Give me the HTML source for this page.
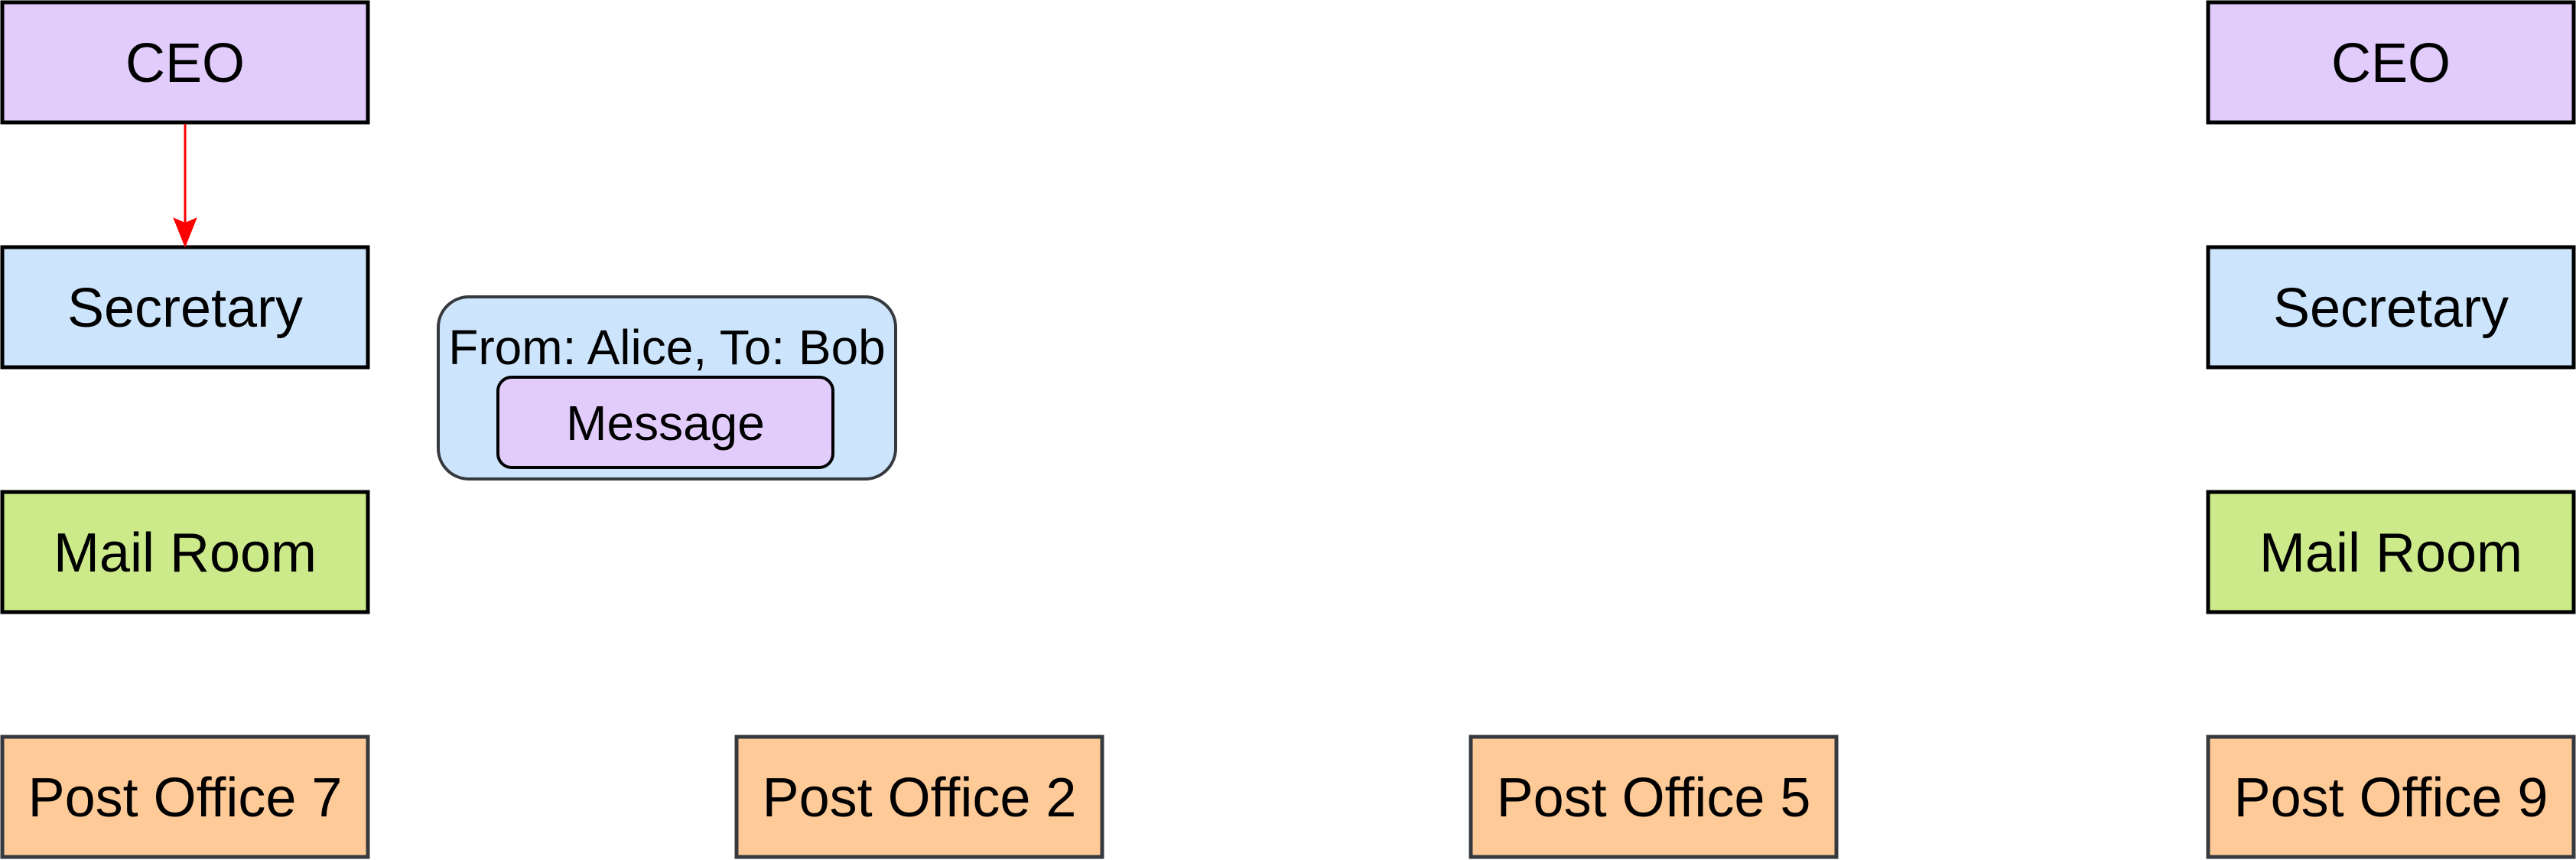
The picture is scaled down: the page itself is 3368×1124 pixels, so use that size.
<!DOCTYPE html>
<html><head><meta charset="utf-8"><style>
html,body{margin:0;padding:0;background:#fff;}
svg{display:block;}
text{font-family:"Liberation Sans",Arial,sans-serif;fill:#000;text-anchor:middle;}
</style></head><body>
<svg width="3368" height="1124" viewBox="0 0 3368 1124" xmlns="http://www.w3.org/2000/svg">
<rect x="0" y="0" width="3368" height="1124" fill="#fff"/>
<rect x="3" y="3" width="478" height="157" fill="#e1ccfc" stroke="#000" stroke-width="5"/>
<text x="242" y="107" font-size="72">CEO</text>
<rect x="3" y="323" width="478" height="157" fill="#cce5fc" stroke="#000" stroke-width="5"/>
<text x="242" y="427" font-size="72">Secretary</text>
<rect x="3" y="643" width="478" height="157" fill="#cdea8b" stroke="#000" stroke-width="5"/>
<text x="242" y="747" font-size="72">Mail Room</text>
<rect x="3" y="963" width="478" height="157" fill="#feca98" stroke="#36393d" stroke-width="5"/>
<text x="242" y="1067" font-size="72">Post Office 7</text>
<line x1="242" y1="162" x2="242" y2="300" stroke="#ff0000" stroke-width="3"/>
<polygon points="228,286 242,292 256,286 242,321" fill="#ff0000" stroke="#ff0000" stroke-width="2"/>
<rect x="573" y="388" width="598" height="238" rx="40" ry="40" fill="#cce5fc" stroke="#36393d" stroke-width="4"/>
<text x="872" y="476" font-size="64">From: Alice, To: Bob</text>
<rect x="651" y="493" width="438" height="118" rx="18" ry="18" fill="#e1ccfc" stroke="#000" stroke-width="4"/>
<text x="870" y="575" font-size="64">Message</text>
<rect x="963" y="963" width="478" height="157" fill="#feca98" stroke="#36393d" stroke-width="5"/>
<text x="1202" y="1067" font-size="72">Post Office 2</text>
<rect x="1923" y="963" width="478" height="157" fill="#feca98" stroke="#36393d" stroke-width="5"/>
<text x="2162" y="1067" font-size="72">Post Office 5</text>
<rect x="2887" y="3" width="478" height="157" fill="#e1ccfc" stroke="#000" stroke-width="5"/>
<text x="3126" y="107" font-size="72">CEO</text>
<rect x="2887" y="323" width="478" height="157" fill="#cce5fc" stroke="#000" stroke-width="5"/>
<text x="3126" y="427" font-size="72">Secretary</text>
<rect x="2887" y="643" width="478" height="157" fill="#cdea8b" stroke="#000" stroke-width="5"/>
<text x="3126" y="747" font-size="72">Mail Room</text>
<rect x="2887" y="963" width="478" height="157" fill="#feca98" stroke="#36393d" stroke-width="5"/>
<text x="3126" y="1067" font-size="72">Post Office 9</text>
</svg>
</body></html>
